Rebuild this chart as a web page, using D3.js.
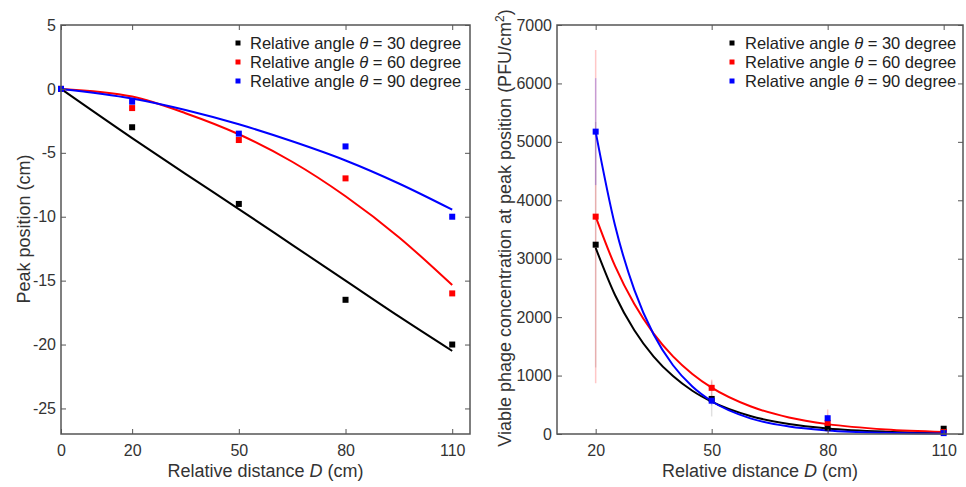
<!DOCTYPE html>
<html>
<head>
<meta charset="utf-8">
<script src="https://cdn.jsdelivr.net/npm/d3@7"></script>
<style>
  body { margin: 0; background: #fff; }
  svg { display: block; font-family: "Liberation Sans", Arial, sans-serif; }
</style>
</head>
<body>
<svg id="chart" width="966" height="487"></svg>
<script>
// left panel: peak position vs distance
const distLeft = [0, 20, 50, 80, 110];
const peak30 = [0, -3, -9, -16.5, -20];
const peak60 = [0, -1.5, -4, -7, -16];
const peak90 = [0, -1, -3.5, -4.5, -10];
// fitted curves
const fitDistLeft = [0, 20, 35, 50, 65, 80, 95, 110];
const fitPeak30 = [0, -3.85, -6.65, -9.4, -12.2, -15.0, -17.8, -20.5];
const fitPeak60 = [0, -0.6, -1.9, -3.55, -5.7, -8.4, -11.6, -15.35];
const fitPeak90 = [0, -0.75, -1.65, -2.77, -4.1, -5.6, -7.4, -9.45];

// right panel: viable phage concentration
const distRight = [20, 50, 80, 110];
const conc30 = [3240, 600, 110, 90];
const err30 = [2100, 300, 60, 30];
const conc60 = [3720, 790, 190, 35];
const err60 = [2850, 140, 230, 20];
const conc90 = [5175, 570, 270, 15];
const err90 = [915, 80, 60, 10];
const fitDistRight = [20, 25, 30, 35, 40, 45, 50, 60, 70, 80, 95, 110];
const fitConc30 = [3185, 2379, 1776, 1326, 991, 740, 553, 308, 172, 96, 40, 17];
const fitConc60 = [3720, 2876, 2223, 1718, 1328, 1027, 793, 474, 283, 169, 78, 36];
const fitConc90 = [5170, 3571, 2467, 1704, 1177, 813, 561, 268, 128, 61, 20, 7];

const xTicksLeft = [0, 20, 50, 80, 110];
const yTicksLeft = [5, 0, -5, -10, -15, -20, -25];
const xTicksRight = [20, 50, 80, 110];
const yTicksRight = [0, 1000, 2000, 3000, 4000, 5000, 6000, 7000];

const angles = ["30", "60", "90"];
const colors = ["#000000", "#ff0000", "#0000ff"];

const textColor = "#333";
const axisColor = "#555";

const svg = d3.select("#chart");

function drawFrame(g, x, y, xTicks, yTicks) {
  const w = x.range()[1], h = y.range()[0];
  const fmt = (d) => String(d);
  const styleAxis = (a) => {
    a.select(".domain").remove();
    a.selectAll(".tick line").attr("stroke", axisColor).attr("stroke-width", 1);
    a.selectAll(".tick text").attr("fill", textColor).attr("font-size", 16);
  };
  g.append("g").attr("transform", `translate(0,${h})`)
    .call(d3.axisBottom(x).tickValues(xTicks).tickFormat(fmt).tickSize(-5).tickPadding(11))
    .call(styleAxis);
  g.append("g")
    .call(d3.axisTop(x).tickValues(xTicks).tickFormat("").tickSize(-5))
    .call(styleAxis);
  g.append("g")
    .call(d3.axisLeft(y).tickValues(yTicks).tickFormat(fmt).tickSize(-5).tickPadding(5))
    .call(styleAxis);
  g.append("g").attr("transform", `translate(${w},0)`)
    .call(d3.axisRight(y).tickValues(yTicks).tickFormat("").tickSize(-5))
    .call(styleAxis);
  g.selectAll("text").attr("font-family", null);
  g.append("rect")
    .attr("width", w).attr("height", h)
    .attr("fill", "none").attr("stroke", axisColor).attr("stroke-width", 1.5);
}

function drawLegend(g, mx, tx) {
  const rows = g.append("g").selectAll("g").data(angles).join("g")
    .attr("transform", (d, i) => `translate(0,${43 + i * 19})`);
  rows.append("rect")
    .attr("x", mx - 2.5).attr("y", -2.5).attr("width", 5).attr("height", 5)
    .attr("fill", (d, i) => colors[i]);
  const t = rows.append("text")
    .attr("x", tx).attr("dy", "0.35em")
    .attr("font-size", 16.5).attr("fill", "#222");
  t.append("tspan").text("Relative angle ");
  t.append("tspan").attr("font-style", "italic").text("θ");
  t.append("tspan").text((d) => ` = ${d} degree`);
}

function squares(g, x, y, xs, ys, color) {
  g.append("g").selectAll("rect").data(xs).join("rect")
    .attr("x", (d) => x(d) - 3)
    .attr("y", (d, i) => y(ys[i]) - 3)
    .attr("width", 6).attr("height", 6)
    .attr("fill", color);
}

function curve(g, x, y, xs, ys, color) {
  g.append("path")
    .datum(xs.map((d, i) => [d, ys[i]]))
    .attr("fill", "none")
    .attr("stroke", color)
    .attr("stroke-width", 2)
    .attr("d", d3.line().x((d) => x(d[0])).y((d) => y(d[1])).curve(d3.curveMonotoneX));
}

// ---------- left panel
{
  const w = 409, h = 409;
  const g = svg.append("g").attr("transform", "translate(61,25)");
  const x = d3.scaleLinear().domain([0, 115]).range([0, w]);
  const y = d3.scaleLinear().domain([-27, 5]).range([h, 0]);

  const fits = [fitPeak30, fitPeak60, fitPeak90];
  const pts = [peak30, peak60, peak90];
  fits.forEach((f, i) => curve(g, x, y, fitDistLeft, f, colors[i]));
  pts.forEach((p, i) => squares(g, x, y, distLeft, p, colors[i]));

  drawFrame(g, x, y, xTicksLeft, yTicksLeft);
  drawLegend(svg, 238, 250);

  svg.append("text")
    .attr("transform", "translate(24,229) rotate(-90)")
    .attr("text-anchor", "middle").attr("dy", "0.35em")
    .attr("font-size", 18).attr("fill", textColor)
    .text("Peak position (cm)");

  const xl = svg.append("text")
    .attr("x", 61 + w / 2).attr("y", 471).attr("dy", "0.35em")
    .attr("text-anchor", "middle")
    .attr("font-size", 18).attr("fill", textColor);
  xl.append("tspan").text("Relative distance ");
  xl.append("tspan").attr("font-style", "italic").text("D");
  xl.append("tspan").text(" (cm)");
}

// ---------- right panel
{
  const w = 406, h = 409;
  const g = svg.append("g").attr("transform", "translate(557,25)");
  const x = d3.scaleLinear().domain([10, 115]).range([0, w]);
  const y = d3.scaleLinear().domain([0, 7000]).range([h, 0]);

  const concs = [conc30, conc60, conc90];
  const errs = [err30, err60, err90];
  const fits = [fitConc30, fitConc60, fitConc90];

  // error bars: faint, black one nearly hidden under the red
  const barOpacity = [0.12, 0.22, 0.22];
  concs.forEach((c, k) => {
    g.append("g").selectAll("line").data(distRight).join("line")
      .attr("x1", (d) => x(d)).attr("x2", (d) => x(d))
      .attr("y1", (d, i) => y(Math.max(0, c[i] - errs[k][i])))
      .attr("y2", (d, i) => y(c[i] + errs[k][i]))
      .attr("stroke", colors[k])
      .attr("stroke-opacity", barOpacity[k])
      .attr("stroke-width", 1.5);
  });
  fits.forEach((f, i) => curve(g, x, y, fitDistRight, f, colors[i]));
  concs.forEach((c, i) => squares(g, x, y, distRight, c, colors[i]));

  drawFrame(g, x, y, xTicksRight, yTicksRight);
  drawLegend(svg, 732, 745);

  const yl = svg.append("text")
    .attr("transform", "translate(505,228) rotate(-90)")
    .attr("text-anchor", "middle").attr("dy", "0.35em")
    .attr("font-size", 18).attr("fill", textColor);
  yl.append("tspan").text("Viable phage concentration at peak position (PFU/cm");
  yl.append("tspan").attr("font-size", 12).attr("dy", -7).text("2");
  yl.append("tspan").attr("dy", 7).text(")");

  const xl = svg.append("text")
    .attr("x", 557 + w / 2).attr("y", 471).attr("dy", "0.35em")
    .attr("text-anchor", "middle")
    .attr("font-size", 18).attr("fill", textColor);
  xl.append("tspan").text("Relative distance ");
  xl.append("tspan").attr("font-style", "italic").text("D");
  xl.append("tspan").text(" (cm)");
}
</script>
</body>
</html>
